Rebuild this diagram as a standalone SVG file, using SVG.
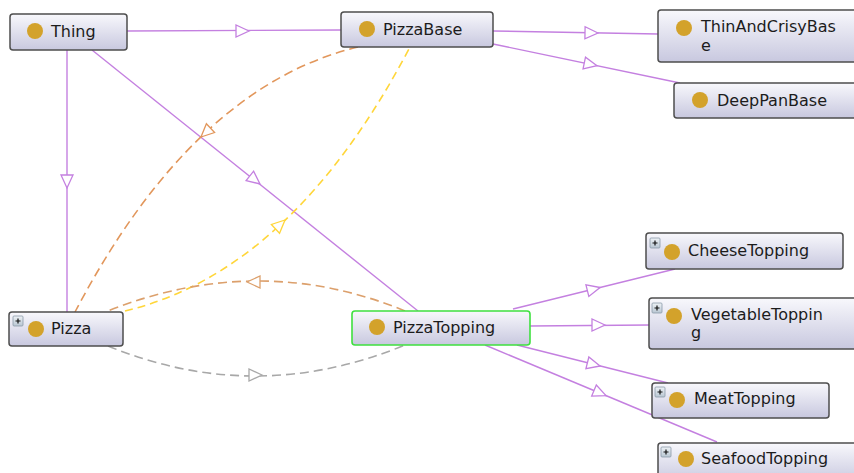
<svg xmlns="http://www.w3.org/2000/svg" width="854" height="473" viewBox="0 0 854 473">
<style>
.box{fill:url(#g);stroke:#4e4e4e;stroke-width:1.5}
.sel{fill:url(#g);stroke:#3fe03f;stroke-width:1.6}
.dot{fill:#d3a22b}
.lbl{font-family:"DejaVu Sans",sans-serif;font-size:16px;fill:#1c1c1c}
.isa{fill:none;stroke:#c480e0;stroke-width:1.4}
.ahp{fill:#fff;stroke:#c480e0;stroke-width:1.3}
.d1{fill:none;stroke:#e2975c;stroke-width:1.6;stroke-dasharray:9 5}
.d2{fill:none;stroke:#dca06c;stroke-width:1.6;stroke-dasharray:9 5}
.dy{fill:none;stroke:#ffd63a;stroke-width:1.6;stroke-dasharray:8 5}
.dg{fill:none;stroke:#a8a8a8;stroke-width:1.6;stroke-dasharray:9 5}
.plus{fill:url(#pg);stroke:#8a9aa8;stroke-width:0.8}
.pl{stroke:#111;stroke-width:1.2}
</style>
<defs>
<linearGradient id="g" x1="0" y1="0" x2="0" y2="1">
<stop offset="0" stop-color="#f8f8fc"/>
<stop offset="1" stop-color="#c8c8df"/>
</linearGradient>
<linearGradient id="pg" x1="0" y1="0" x2="0" y2="1">
<stop offset="0" stop-color="#eef2f6"/>
<stop offset="1" stop-color="#b8c6d2"/>
</linearGradient>
<path id="ah" d="M0,0 L-13,-6 L-13,6 Z"/>
<g id="plusicon"><rect class="plus" x="0" y="0" width="10" height="10" rx="1"/><path class="pl" d="M2.5,5 H7.5 M5,2.5 V7.5"/></g>
</defs>
<rect width="854" height="473" fill="#fff"/>
<g id="connectors">
<path class="isa" d="M127,31 L341,30"/>
<use href="#ah" class="ahp" transform="translate(249,31)"/>
<path class="isa" d="M67,50 L67,312"/>
<use href="#ah" class="ahp" transform="translate(67,188) rotate(90)"/>
<path class="isa" d="M92,50 L418,311"/>
<use href="#ah" class="ahp" transform="translate(260,184) rotate(38.7)"/>
<path class="isa" d="M493,31 L658,34"/>
<use href="#ah" class="ahp" transform="translate(598,33) rotate(1)"/>
<path class="isa" d="M493,44 L680,83"/>
<use href="#ah" class="ahp" transform="translate(597,65.7) rotate(11.8)"/>
<path class="isa" d="M513,309 L675,269"/>
<use href="#ah" class="ahp" transform="translate(600,287.5) rotate(-13.9)"/>
<path class="isa" d="M530,326 L649,325"/>
<use href="#ah" class="ahp" transform="translate(605,325)"/>
<path class="isa" d="M517,345 L668,383"/>
<use href="#ah" class="ahp" transform="translate(600,366) rotate(14.1)"/>
<path class="isa" d="M485,345 L717,442"/>
<use href="#ah" class="ahp" transform="translate(606,395.6) rotate(22.7)"/>
<path class="d1" d="M358,47 Q193.5,86.5 75,312"/>
<use href="#ah" fill="#fff" stroke="#e2975c" stroke-width="1.3" transform="translate(201,137) rotate(136.9)"/>
<path class="dy" d="M125,311 Q292.5,271 410,47"/>
<use href="#ah" fill="#fff" stroke="#ffd63a" stroke-width="1.3" transform="translate(285,220) rotate(-42.8)"/>
<path class="d2" d="M405,311 Q258.5,250.5 105,312"/>
<use href="#ah" fill="#fff" stroke="#dca06c" stroke-width="1.3" transform="translate(247,282) rotate(180)"/>
<path class="dg" d="M108,346 Q255.5,406.5 405,345"/>
<use href="#ah" fill="#fff" stroke="#a8a8a8" stroke-width="1.3" transform="translate(262,375)"/>
</g>
<g id="Thing">
<rect class="box" x="10" y="14" width="117" height="36" rx="3"/>
<circle class="dot" cx="35" cy="31" r="8"/>
<text class="lbl" x="51" y="37">Thing</text>
</g>
<g id="PizzaBase">
<rect class="box" x="341" y="12" width="152" height="35" rx="3"/>
<circle class="dot" cx="367" cy="29" r="8"/>
<text class="lbl" x="383" y="35">PizzaBase</text>
</g>
<g id="ThinAndCrisyBase">
<rect class="box" x="658" y="10" width="205" height="52" rx="3"/>
<circle class="dot" cx="684" cy="28" r="8"/>
<text class="lbl" x="701" y="32">ThinAndCrisyBas</text>
<text class="lbl" x="701" y="51">e</text>
</g>
<g id="DeepPanBase">
<rect class="box" x="674" y="83" width="190" height="35" rx="3"/>
<circle class="dot" cx="700" cy="100" r="8"/>
<text class="lbl" x="717" y="106">DeepPanBase</text>
</g>
<g id="Pizza">
<rect class="box" x="9" y="312" width="114" height="34" rx="3"/>
<use href="#plusicon" transform="translate(13,316)"/>
<circle class="dot" cx="36" cy="329" r="8"/>
<text class="lbl" x="51" y="334">Pizza</text>
</g>
<g id="PizzaTopping">
<rect class="sel" x="352" y="311" width="178" height="34" rx="3"/>
<circle class="dot" cx="377" cy="327" r="8"/>
<text class="lbl" x="393" y="333">PizzaTopping</text>
</g>
<g id="CheeseTopping">
<rect class="box" x="646" y="233" width="197" height="36" rx="3"/>
<use href="#plusicon" transform="translate(650,238)"/>
<circle class="dot" cx="672" cy="252" r="8"/>
<text class="lbl" x="688" y="256">CheeseTopping</text>
</g>
<g id="VegetableTopping">
<rect class="box" x="649" y="298" width="215" height="51" rx="3"/>
<use href="#plusicon" transform="translate(652,303)"/>
<circle class="dot" cx="674" cy="316" r="8"/>
<text class="lbl" x="691" y="320">VegetableToppin</text>
<text class="lbl" x="691" y="338">g</text>
</g>
<g id="MeatTopping">
<rect class="box" x="652" y="383" width="177" height="35" rx="3"/>
<use href="#plusicon" transform="translate(655,387)"/>
<circle class="dot" cx="677" cy="400" r="8"/>
<text class="lbl" x="694" y="404">MeatTopping</text>
</g>
<g id="SeafoodTopping">
<rect class="box" x="658" y="443" width="205" height="40" rx="3"/>
<use href="#plusicon" transform="translate(661,447)"/>
<circle class="dot" cx="686" cy="459" r="8"/>
<text class="lbl" x="701" y="464">SeafoodTopping</text>
</g>
</svg>
